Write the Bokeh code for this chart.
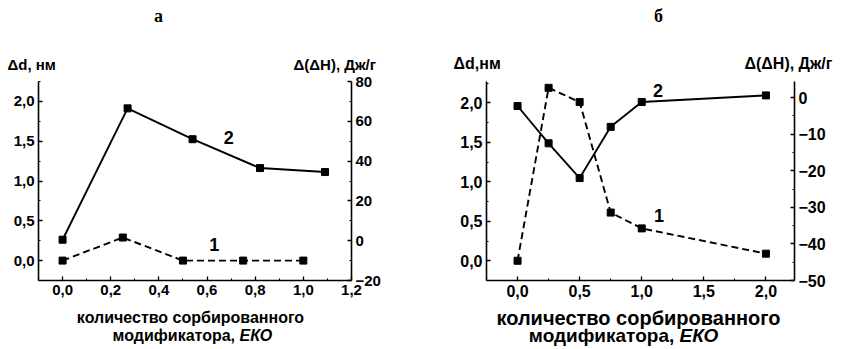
from bokeh.plotting import figure
from bokeh.models import Range1d, LinearAxis, FixedTicker, CustomJSTickFormatter, Label
from bokeh.layouts import row, column
from bokeh.embed import file_html
from bokeh.resources import INLINE

# ---- panel a data ----
a_x1 = [0.0, 0.25, 0.5, 0.75, 1.0]
a_d1 = [0.0, 0.29, 0.0, 0.0, 0.0]          # curve 1, Δd, нм
a_x2 = [0.0, 0.27, 0.54, 0.82, 1.09]
a_h2 = [0.5, 66.5, 51.0, 36.5, 34.5]       # curve 2, Δ(ΔH), Дж/г

# ---- panel б data ----
b_x = [0.0, 0.25, 0.5, 0.75, 1.0, 2.0]
b_d1 = [0.0, 2.19, 2.01, 0.61, 0.41, 0.09]     # curve 1, Δd, нм
b_h2 = [-2.3, -12.5, -22.0, -8.0, -1.2, 0.6]   # curve 2, Δ(ΔH), Дж/г

a_xticks = [0.0, 0.2, 0.4, 0.6, 0.8, 1.0, 1.2]
a_xminor = [-0.1, 0.1, 0.3, 0.5, 0.7, 0.9, 1.1]
d_ticks = [0.0, 0.5, 1.0, 1.5, 2.0]
d_minor = [-0.25, 0.25, 0.75, 1.25, 1.75, 2.25]
a_hticks = [-20, 0, 20, 40, 60, 80]
a_hminor = [-10, 10, 30, 50, 70]
b_xticks = [0.0, 0.5, 1.0, 1.5, 2.0]
b_xminor = [-0.25, 0.25, 0.75, 1.25, 1.75]
b_hticks = [-50, -40, -30, -20, -10, 0]
b_hminor = [-45, -35, -25, -15, -5]

FONT = "Liberation Sans"
comma = CustomJSTickFormatter(code="return tick.toFixed(1).replace('.', ',');")

W = 841
H_TOP, H_MAIN, H_BOT = 73, 234, 42


def style_axis(ax, size):
    ax.major_label_text_font = FONT
    ax.major_label_text_font_style = "bold"
    ax.major_label_text_font_size = size
    ax.major_label_text_color = "black"
    ax.axis_line_width = 1.6
    ax.axis_line_color = "black"
    ax.major_tick_in = 4
    ax.major_tick_out = 0
    ax.minor_tick_in = 2
    ax.minor_tick_out = 0
    ax.major_tick_line_width = 1.3
    ax.major_label_standoff = 4


def lbl(p, text, x, y, size, align="left", style="bold", font=FONT, yname="default",
        baseline="middle"):
    p.add_layout(Label(x=x, y=y, text=text, y_range_name=yname,
                       text_font=font, text_font_style=style, text_font_size=size,
                       text_align=align, text_baseline=baseline, text_color="black"))


def text_fig(h):
    p = figure(width=W, height=h, x_range=Range1d(0, W), y_range=Range1d(0, h),
               x_axis_location=None, y_axis_location=None, output_backend="svg",
               toolbar_location=None, min_border=0, min_border_left=0, min_border_right=0,
               min_border_top=0, min_border_bottom=0)
    p.xgrid.visible = False
    p.ygrid.visible = False
    p.outline_line_color = None
    return p


def make_fig(w, h, xr, yr, y2r, ml, mr, mt, mb):
    p = figure(width=w, height=h, x_range=xr, y_range=yr, output_backend="svg",
               toolbar_location=None, min_border_left=ml, min_border_right=mr,
               min_border_top=mt, min_border_bottom=mb)
    p.extra_y_ranges = {"h": y2r}
    p.xgrid.visible = False
    p.ygrid.visible = False
    p.outline_line_color = None
    return p


# ---------------- header texts ----------------
top = text_fig(H_TOP)
lbl(top, "а", 158, H_TOP - 15, "18px", align="center", font="Liberation Serif")
lbl(top, "б", 658, H_TOP - 15, "18px", align="center", font="Liberation Serif")
lbl(top, "Δd, нм", 7, H_TOP - 64, "15px")
lbl(top, "Δ(ΔH), Дж/г", 293, H_TOP - 64, "15px")
lbl(top, "Δd,нм", 453, H_TOP - 63, "16px")
lbl(top, "Δ(ΔH), Дж/г", 744, H_TOP - 63, "16px")

# ---------------- panel a ----------------
pa = make_fig(420, H_MAIN, Range1d(-0.1, 1.2), Range1d(-0.25, 2.25), Range1d(-20, 80), 38, 69, 8, 24)
pa.xaxis.ticker = FixedTicker(ticks=a_xticks, minor_ticks=a_xminor)
pa.xaxis.formatter = comma
pa.yaxis.ticker = FixedTicker(ticks=d_ticks, minor_ticks=d_minor)
pa.yaxis.formatter = comma
ra = LinearAxis(y_range_name="h", ticker=FixedTicker(ticks=a_hticks, minor_ticks=a_hminor))
pa.add_layout(ra, "right")
for ax in [pa.xaxis[0], pa.yaxis[0], ra]:
    style_axis(ax, "15px")

pa.line(a_x1, a_d1, line_color="black", line_width=1.9, line_dash="7 4")
pa.scatter(a_x1, a_d1, marker="square", size=7, color="black")
pa.line(a_x2, a_h2, line_color="black", line_width=1.9, y_range_name="h")
pa.scatter(a_x2, a_h2, marker="square", size=7, color="black", y_range_name="h")
lbl(pa, "2", 0.69, 52, "18px", align="center", yname="h")
lbl(pa, "1", 0.63, 0.2, "18px", align="center")

# ---------------- panel б ----------------
pb = make_fig(421, H_MAIN, Range1d(-0.25, 2.23), Range1d(-0.25, 2.27), Range1d(-50, 4.4), 66, 47, 8, 27)
pb.xaxis.ticker = FixedTicker(ticks=b_xticks, minor_ticks=b_xminor)
pb.xaxis.formatter = comma
pb.yaxis.ticker = FixedTicker(ticks=d_ticks, minor_ticks=d_minor)
pb.yaxis.formatter = comma
rb = LinearAxis(y_range_name="h", ticker=FixedTicker(ticks=b_hticks, minor_ticks=b_hminor))
pb.add_layout(rb, "right")
for ax in [pb.xaxis[0], pb.yaxis[0], rb]:
    style_axis(ax, "16px")

pb.line(b_x, b_d1, line_color="black", line_width=1.9, line_dash="7 4")
pb.scatter(b_x, b_d1, marker="square", size=7, color="black")
pb.line(b_x, b_h2, line_color="black", line_width=1.9, y_range_name="h")
pb.scatter(b_x, b_h2, marker="square", size=7, color="black", y_range_name="h")
lbl(pb, "2", 1.13, 2.16, "18px", align="center")
lbl(pb, "1", 1.14, 0.57, "18px", align="center")

# ---------------- footer texts (x-axis titles) ----------------
bot = text_fig(H_BOT)
lbl(bot, "количество сорбированного", 190, H_BOT - 10, "16px", align="center")
lbl(bot, "модификатора, ", 239, H_BOT - 28, "16px", align="right")
lbl(bot, "ЕКО", 239, H_BOT - 28, "16px", style="bold italic")
lbl(bot, "количество сорбированного", 638, H_BOT - 10, "20px", align="center")
lbl(bot, "модификатора, ", 679, H_BOT - 28, "19px", align="right")
lbl(bot, "ЕКО", 679, H_BOT - 28, "19px", style="bold italic")

layout = column(top, row(pa, pb), bot)
open("out.html", "w").write(file_html(layout, INLINE))
